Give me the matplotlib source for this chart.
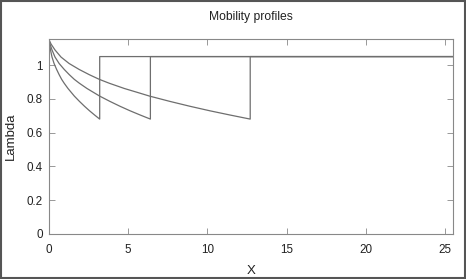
import matplotlib
matplotlib.use("Agg")
import matplotlib.pyplot as plt
from matplotlib.patches import Rectangle

plt.rcParams['font.family'] = ['Liberation Sans', 'DejaVu Sans']

# Profile 1
x1 = [0, 0.032, 0.096, 0.19, 0.32, 0.48, 0.64, 0.8, 0.96, 1.2, 1.44, 1.6,
      1.92, 2.24, 2.56, 2.88, 3.2, 3.2, 25.5]
y1 = [1.15, 1.124, 1.089, 1.047, 1.009, 0.974, 0.943, 0.915, 0.892, 0.861, 0.834, 0.816,
      0.785, 0.756, 0.729, 0.704, 0.68, 1.05, 1.05]
# Profile 2
x2 = [0, 0.064, 0.19, 0.38, 0.64, 0.96, 1.28, 1.6, 1.92, 2.4, 2.88, 3.2,
      3.84, 4.48, 5.12, 5.76, 6.4, 6.4, 25.5]
y2 = [1.15, 1.124, 1.089, 1.047, 1.009, 0.974, 0.943, 0.915, 0.892, 0.861, 0.834, 0.816,
      0.785, 0.756, 0.729, 0.704, 0.68, 1.05, 1.05]
# Profile 3
x3 = [0, 0.13, 0.38, 0.76, 1.27, 1.9, 2.54, 3.18, 3.81, 4.76, 5.72, 6.35,
      7.62, 8.89, 10.16, 11.43, 12.7, 12.7, 25.5]
y3 = [1.15, 1.124, 1.089, 1.047, 1.009, 0.974, 0.943, 0.915, 0.892, 0.861, 0.834, 0.816,
      0.785, 0.756, 0.729, 0.704, 0.68, 1.05, 1.05]

xticks = [0, 5, 10, 15, 20, 25]
yticks = [0, 0.2, 0.4, 0.6, 0.8, 1]
yticklabels = ['0', '0.2', '0.4', '0.6', '0.8', '1']

fig = plt.figure(figsize=(4.66, 2.79), dpi=100)
ax = fig.add_axes([49/466, 45/279, 404/466, 195/279])

lc = '#6e6e6e'
for xs, ys in [(x1, y1), (x2, y2), (x3, y3)]:
    ax.plot(xs, ys, color=lc, lw=0.9)

ax.set_xlim(0, 25.5)
ax.set_ylim(0, 1.154)
ax.set_xticks(xticks)
ax.set_xticklabels([str(t) for t in xticks])
ax.set_yticks(yticks)
ax.set_yticklabels(yticklabels)
ax.tick_params(direction='in', length=4, width=0.6, color='#888888',
               top=True, right=True, labelsize=8.4, labelcolor='#222222')
ax.tick_params(axis='x', pad=7.5)
ax.tick_params(axis='y', pad=4.5)
for s in ax.spines.values():
    s.set_color('#888888')
    s.set_linewidth(0.8)

ax.set_title('Mobility profiles', fontsize=8.7, color='#222222', pad=14)
ax.set_xlabel('X', fontsize=9.5, color='#222222', labelpad=6)
ax.set_ylabel('Lambda', fontsize=9.5, color='#222222', labelpad=7)

fig.patches.append(Rectangle((0.002, 0.004), 0.996, 0.992, transform=fig.transFigure,
                             fill=False, edgecolor='#555555', linewidth=1.5))

fig.savefig('out.png', dpi=100)
